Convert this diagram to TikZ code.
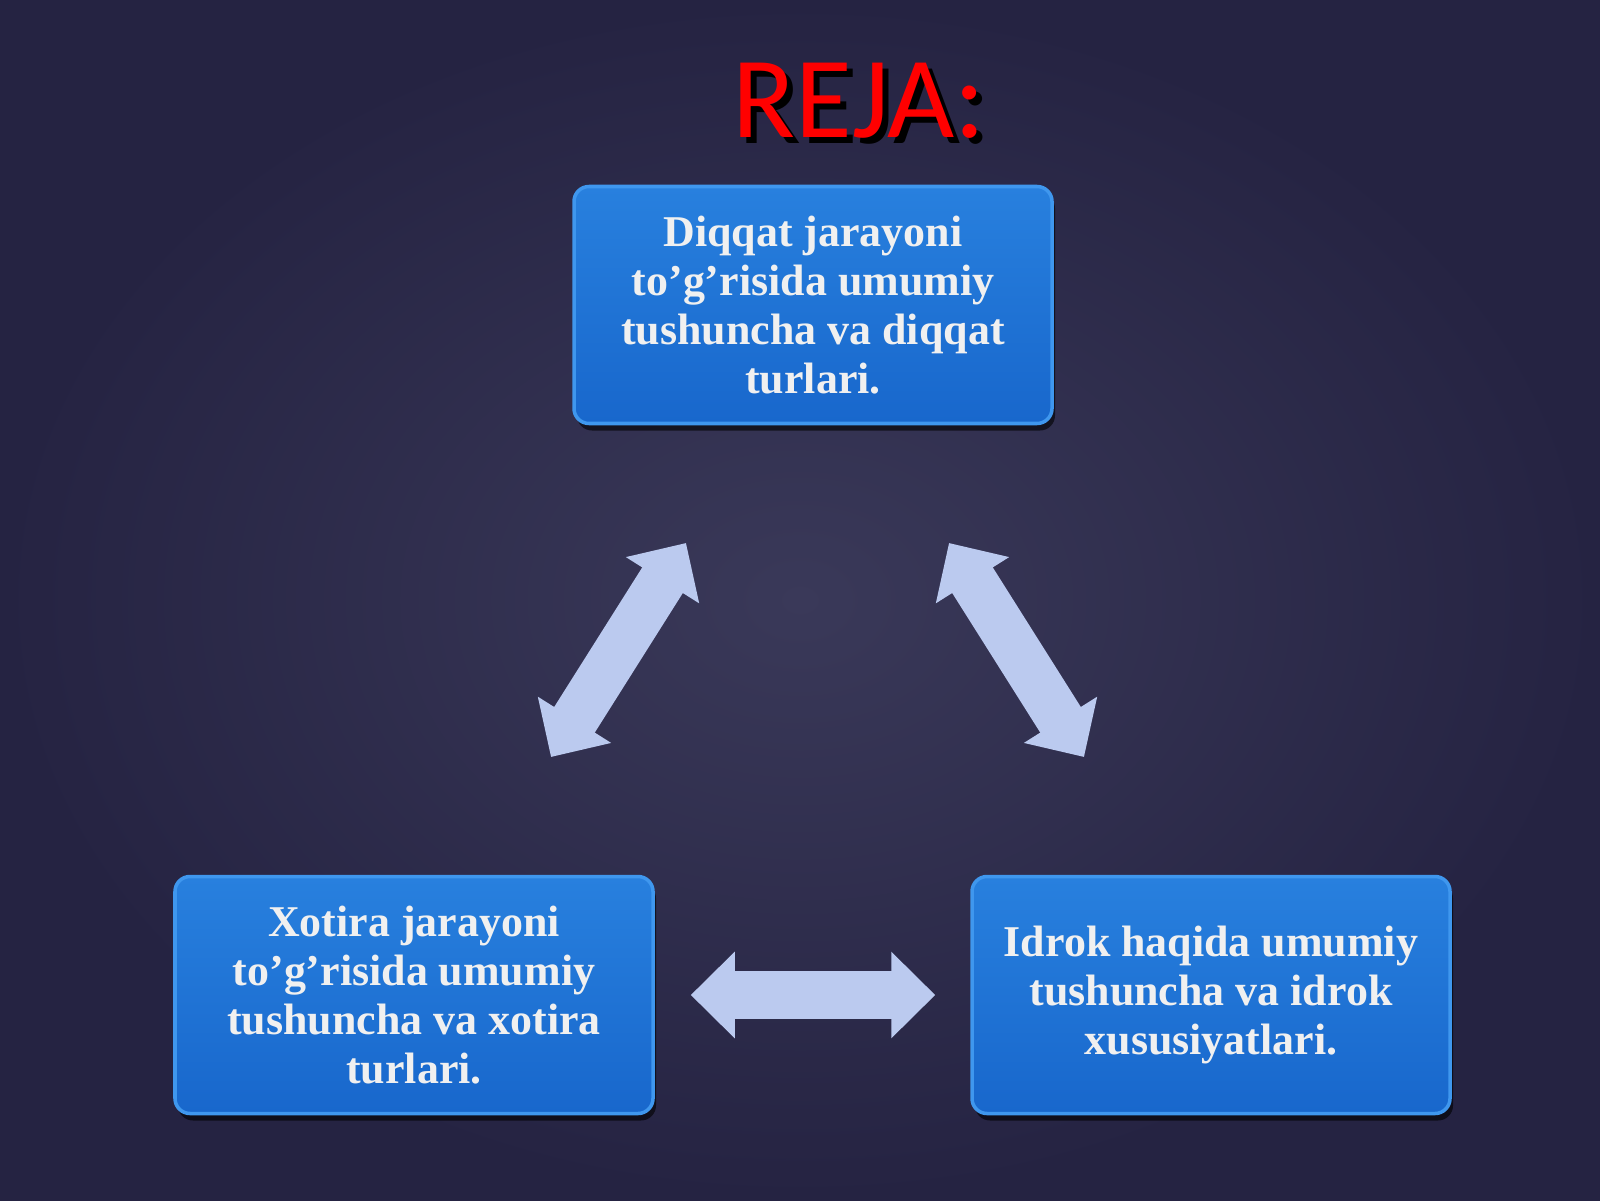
\documentclass[tikz,border=0pt]{standalone}
\usepackage{fontspec}
\setmainfont{Liberation Serif}
\newfontfamily\titlefont{Carlito}
\usetikzlibrary{arrows.meta,shadows,positioning}

\definecolor{bgmid}{HTML}{3A3959}
\definecolor{bgedge}{HTML}{252342}
\definecolor{boxtop}{HTML}{2880DE}
\definecolor{boxbot}{HTML}{1867CC}
\definecolor{boxrim}{HTML}{3F97EE}
\definecolor{arrowfill}{HTML}{BBCAEF}

% red title with a black shadow behind it
\newcommand{\shadowtitle}[1]{\rlap{\kern0.06cm\raisebox{-0.06cm}{\textcolor{black}{#1}}}\textcolor{red}{#1}}

\begin{document}
\begin{tikzpicture}[
  planbox/.style={rectangle, rounded corners=0.15cm, minimum width=4.78cm, minimum height=2.37cm,
    top color=boxtop, bottom color=boxbot, draw=boxrim, line width=1pt,
    drop shadow={fill=black, opacity=0.6, shadow xshift=0.03cm, shadow yshift=-0.07cm},
    text=white!94!black, align=center, font=\bfseries\fontsize{12.5}{13.9}\selectfont},
  linkarrow/.style={draw=arrowfill, line width=0.48cm,
    {Triangle[length=0.44cm,width=0.84cm]}-{Triangle[length=0.44cm,width=0.84cm]}},
  titletext/.style={font=\titlefont\fontsize{33}{33}\selectfont, anchor=base}
]

% Background
\shade[inner color=bgmid, outer color=bgedge] (0,0) rectangle (16,12);
\useasboundingbox (0,0) rectangle (16,12);

% Title
\node[titletext] (reja) at (8.59,10.62) {\shadowtitle{REJA:}};

% Boxes
\node[planbox] (diqqat) at (8.13,8.95) {Diqqat jarayoni\\ to’g’risida umumiy\\ tushuncha va diqqat\\ turlari.};
\node[planbox] (xotira) at (4.14,2.05) {Xotira jarayoni\\ to’g’risida umumiy\\ tushuncha va xotira\\ turlari.};
\node[planbox] (idrok) at (12.11,2.05) {Idrok haqida umumiy\\ tushuncha va idrok\\ xususiyatlari.};

% Arrow ends
\coordinate (xd1) at (5.51,4.43);
\coordinate (xd2) at (6.86,6.57);
\coordinate (di1) at (9.49,6.57);
\coordinate (di2) at (10.84,4.43);

% Arrows
\draw[linkarrow] (xd1) -- (xd2);
\draw[linkarrow] (di1) -- (di2);
\draw[linkarrow] ([xshift=0.36cm]xotira.east) -- ([xshift=-0.35cm]idrok.west);

\end{tikzpicture}
\end{document}
